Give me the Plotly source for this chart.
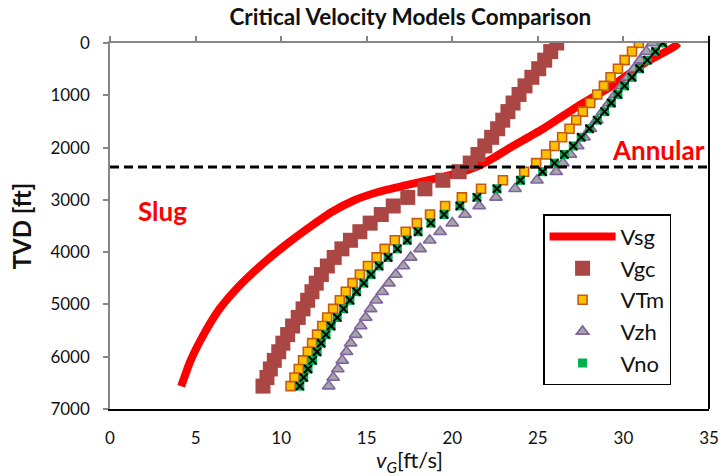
import plotly.graph_objects as go

# ---- data ----
depth_ft = [0, 164, 328, 492, 656, 820, 984, 1148, 1312, 1476, 1640, 1804, 1969, 2133,
            2297, 2461, 2625, 2789, 2953, 3117, 3281, 3445, 3609, 3773, 3937, 4101, 4265,
            4429, 4593, 4757, 4921, 5085, 5249, 5413, 5577, 5741, 5906, 6070, 6234, 6398, 6562]

vgc = [26.1, 25.75, 25.4, 25.05, 24.65, 24.25, 23.9, 23.55, 23.25, 22.95, 22.65, 22.3, 21.9, 21.5,
       21.05, 20.4, 19.45, 18.4, 17.4, 16.55, 15.85, 15.2, 14.6, 14.05, 13.55, 13.1, 12.7,
       12.35, 12.05, 11.8, 11.55, 11.28, 11.0, 10.67, 10.38, 10.1, 9.86, 9.6, 9.37, 9.17, 8.94]

vtm = [30.9, 30.5, 30.07, 29.68, 29.25, 28.86, 28.47, 28.06, 27.63, 27.24, 26.85, 26.42, 25.97, 25.48,
       24.9, 24.2, 22.96, 21.68, 20.56, 19.58, 18.7, 17.93, 17.28, 16.64, 16.05, 15.58, 15.07,
       14.6, 14.17, 13.78, 13.43, 13.04, 12.69, 12.4, 12.1, 11.81, 11.56, 11.28, 11.03, 10.78, 10.55]

vzh = [31.7, 31.34, 30.98, 30.62, 30.26, 29.9, 29.53, 29.17, 28.8, 28.44, 28.07, 27.7, 27.33, 26.9,
       26.46, 26.07, 24.95, 23.67, 22.55, 21.57, 20.74, 20.0, 19.29, 18.68, 18.12, 17.57, 17.14,
       16.7, 16.3, 15.91, 15.56, 15.23, 14.94, 14.65, 14.35, 14.06, 13.82, 13.57, 13.31, 13.04, 12.78]

vno = [32.3, 31.87, 31.4, 30.94, 30.5, 30.07, 29.68, 29.29, 28.9, 28.47, 28.02, 27.53, 27.07, 26.55,
       25.97, 25.28, 23.98, 22.61, 21.44, 20.44, 19.52, 18.75, 18.0, 17.37, 16.79, 16.25, 15.72,
       15.25, 14.83, 14.41, 14.02, 13.65, 13.28, 12.92, 12.62, 12.34, 12.1, 11.84, 11.57, 11.32, 11.09]

vsg_depth = [0, 64, 383, 829, 1211, 1626, 2008, 2199, 2347, 2486, 2614, 2729, 2855, 3012,
             3232, 3509, 3792, 4207, 4622, 5068, 5578, 6088, 6566]
vsg = [33.2, 33.0, 31.24, 29.29, 27.33, 25.38, 23.35, 22.4, 21.55, 20.31, 18.75, 17.18, 15.62, 14.25,
       12.95, 11.72, 10.54, 8.98, 7.62, 6.44, 5.47, 4.69, 4.16]

transition_depth = 2370
x_ticks = [0, 5, 10, 15, 20, 25, 30, 35]
y_ticks = [0, 1000, 2000, 3000, 4000, 5000, 6000, 7000]

FONT = "Lato, 'Open Sans', sans-serif"
GREY = "#868686"

fig = go.Figure()

fig.add_trace(go.Scatter(x=vsg, y=vsg_depth, name="Vsg", mode="lines",
                         line=dict(color="#FF0000", width=8, shape="spline", smoothing=0.6),
                         legendgroup="a"))
fig.add_trace(go.Scatter(x=vgc, y=depth_ft, name="Vgc", mode="markers",
                         marker=dict(symbol="square", size=15, color="#AA4643",
                                     line=dict(width=0)),
                         legendgroup="b"))
fig.add_trace(go.Scatter(x=vtm, y=depth_ft, name="VTm", mode="markers",
                         marker=dict(symbol="square", size=9, color="#FFC000",
                                     line=dict(color="#C55A11", width=1.6)),
                         legendgroup="c"))
fig.add_trace(go.Scatter(x=vzh, y=depth_ft, name="Vzh", mode="markers",
                         marker=dict(symbol="triangle-up", size=11, color="#A5A5A5",
                                     line=dict(color="#8064A2", width=1.6)),
                         legendgroup="d"))
fig.add_trace(go.Scatter(x=vno, y=depth_ft, name="Vno", mode="markers",
                         marker=dict(symbol="square", size=9, color="#00B050",
                                     line=dict(width=0)),
                         legendgroup="e"))
fig.add_trace(go.Scatter(x=vno, y=depth_ft, name="Vno", mode="markers", showlegend=False,
                         marker=dict(symbol="x-thin", size=8, color="black",
                                     line=dict(color="black", width=2)),
                         legendgroup="e", xaxis="x2"))

# transition boundary
fig.add_shape(type="line", xref="paper", x0=0, x1=1, yref="y", y0=transition_depth, y1=transition_depth,
              line=dict(color="black", width=3, dash="9px,5px"))
# right frame
fig.add_shape(type="line", xref="paper", x0=1, x1=1, yref="paper", y0=0, y1=1.02,
              line=dict(color="black", width=2))

fig.add_annotation(x=3.05, y=3212, text="<b>Slug</b>", showarrow=False,
                   font=dict(family=FONT, size=26, color="#FF0000"))
fig.add_annotation(x=32.05, y=2046, text="<b>Annular</b>", showarrow=False,
                   font=dict(family=FONT, size=26, color="#FF0000"))

fig.update_layout(
    width=720, height=476,
    margin=dict(l=110, r=11, t=43, b=67, autoexpand=False),
    paper_bgcolor="white", plot_bgcolor="white",
    font=dict(family=FONT, color="#111"),
    title=dict(text="<b>Critical Velocity Models Comparison</b>", x=0.57, xanchor="center",
               y=0.965, yanchor="middle", font=dict(family=FONT, size=22.5, color="#111")),
    xaxis=dict(range=[0, 35], tickvals=x_ticks, showgrid=False, zeroline=False, automargin=False,
               showline=True, linecolor="black", linewidth=2, ticks="",
               tickfont=dict(size=17), ticklabelstandoff=13,
               title=dict(text="<i>v</i><sub><i>G</i></sub>[ft/s]", font=dict(size=22), standoff=3)),
    xaxis2=dict(range=[0, 35], matches="x", overlaying="x", side="top", tickvals=x_ticks,
                automargin=False,
                showgrid=False, zeroline=False, showline=True, linecolor=GREY, linewidth=1.5,
                ticks="outside", ticklen=5, tickcolor=GREY, tickwidth=1.5, showticklabels=False),
    yaxis=dict(range=[7000, 0], tickvals=y_ticks, showgrid=False, zeroline=False, automargin=False,
               showline=True, linecolor=GREY, linewidth=1.5, ticks="outside", ticklen=5,
               tickcolor=GREY, tickwidth=1.5, tickfont=dict(size=17), ticklabelstandoff=10,
               title=dict(text="<b>TVD [ft]</b>", font=dict(size=24), standoff=12)),
    legend=dict(x=0.723, y=0.532, xanchor="left", yanchor="top",
                bgcolor="white", bordercolor="black", borderwidth=1.5,
                font=dict(family=FONT, size=22, color="#111"),
                itemwidth=66, tracegroupgap=0),
)

fig.write_html("out.html")
